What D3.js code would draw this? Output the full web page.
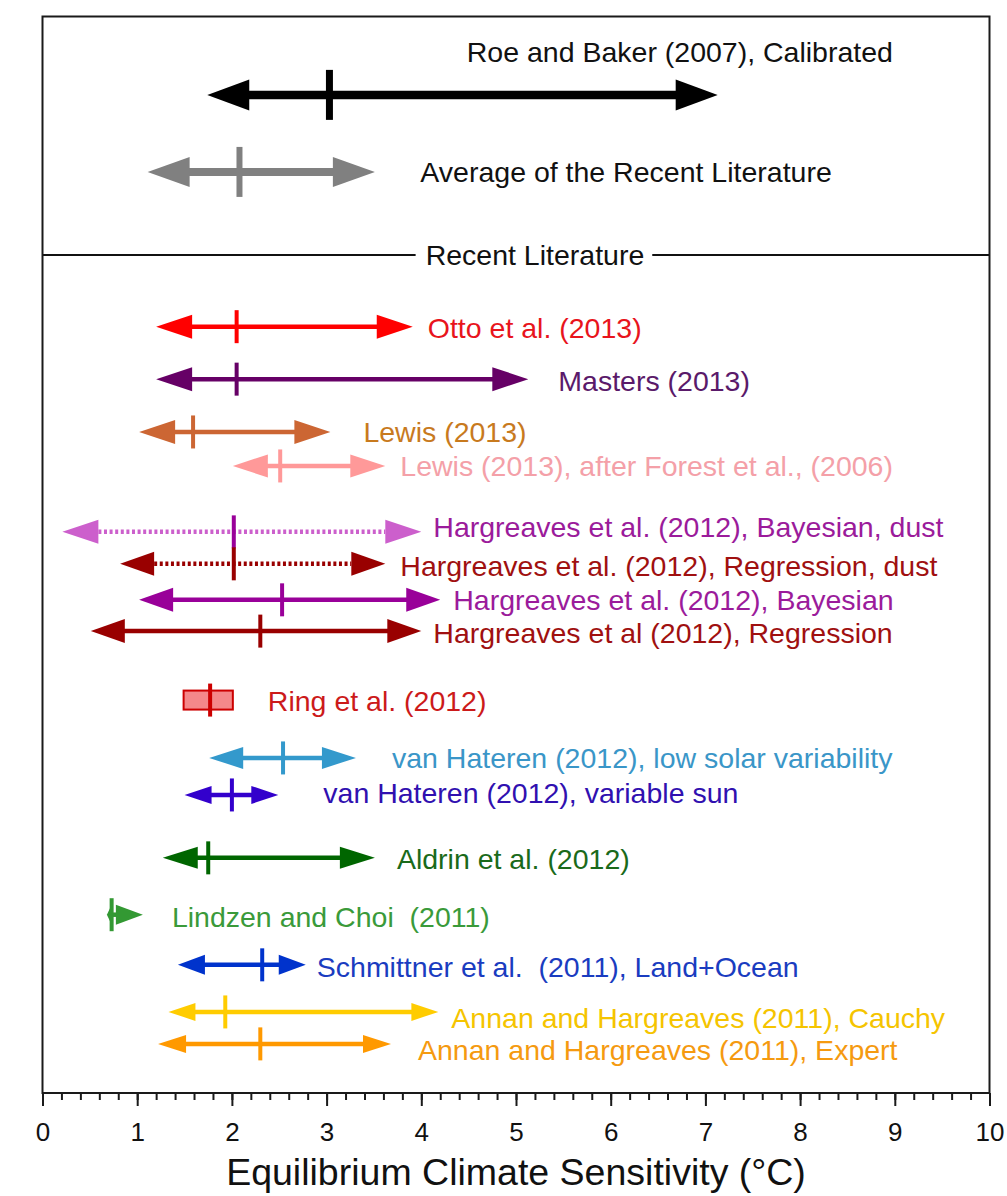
<!DOCTYPE html>
<html>
<head>
<meta charset="utf-8">
<script src="https://d3js.org/d3.v7.min.js"></script>
<style>
    body { margin: 0; background: #ffffff; }
    text { font-family: "Liberation Sans", Arial, sans-serif; white-space: pre; }
</style>
</head>
<body>
<div id="graph"></div>
<script>
// ---- Data (values in °C) ----

// Top panel: calibrated range and the average of the recent literature
const summaryNames = ["Roe and Baker (2007), Calibrated", "Average of the Recent Literature"];
const summaryLows = [1.74, 1.11];
const summaryMedians = [3.03, 2.08];
const summaryHighs = [7.13, 3.51];

// Bottom panel: individual studies
const studies = [
    "Otto et al. (2013)",
    "Masters (2013)",
    "Lewis (2013)",
    "Lewis (2013), after Forest et al., (2006)",
    "Hargreaves et al. (2012), Bayesian, dust",
    "Hargreaves et al. (2012), Regression, dust",
    "Hargreaves et al. (2012), Bayesian",
    "Hargreaves et al (2012), Regression",
    "Ring et al. (2012)",
    "van Hateren (2012), low solar variability",
    "van Hateren (2012), variable sun",
    "Aldrin et al. (2012)",
    "Lindzen and Choi  (2011)",
    "Schmittner et al.  (2011), Land+Ocean",
    "Annan and Hargreaves (2011), Cauchy",
    "Annan and Hargreaves (2011), Expert"
];
const lows    = [1.20, 1.20, 1.02, 2.01, 0.21, 0.82, 1.02, 0.51, 1.49, 1.76, 1.50, 1.27, 0.68, 1.43, 1.33, 1.22];
const medians = [2.05, 2.05, 1.59, 2.51, 2.02, 2.02, 2.53, 2.30, 1.77, 2.54, 2.00, 1.75, 0.73, 2.32, 1.93, 2.30];
const highs   = [3.91, 5.13, 3.04, 3.62, 4.00, 3.62, 4.20, 4.00, 2.01, 3.31, 2.49, 3.51, 1.06, 2.78, 4.18, 3.68];

const xTicks = [0, 1, 2, 3, 4, 5, 6, 7, 8, 9, 10];
const sectionTitle = "Recent Literature";
const xTitle = "Equilibrium Climate Sensitivity (°C)";

// ---- Layout and styles (kept apart from the data) ----
const width = 1007, height = 1196;
const margin = {left: 42.5, top: 16.5, right: 17.5, bottom: 103};
const plotW = width - margin.left - margin.right;
const plotH = height - margin.top - margin.bottom;

// rows in layout units, the y scale turns them into pixels
const summaryRows = [2.33, 4.62];
const summaryLabelRows = [1.07, 4.62];
const summaryLabelX = [4.48, 3.99];
const sectionRow = 7.09;
const studyRows = [9.22, 10.78, 12.35, 13.36, 15.32, 16.27, 17.34, 18.27, 20.32, 22.04, 23.14, 25.01, 26.70, 28.19, 29.59, 30.54];

const summaryStyles = [
    {color: "#000000", width: 8.5, head: [42, 31], tickW: 7, tickH: 50},
    {color: "#808080", width: 8, head: [42, 30], tickW: 6, tickH: 50}
];

// line colour, label colour, tick colour, dotted?, arrow head [length, height], label gap (px), label dy (px)
const styles = [
    {color: "#ff0000", text: "#e8141c", head: [36, 24], gap: 15, dy: 1},
    {color: "#660066", text: "#5a1a6a", head: [36, 24], gap: 30, dy: 2},
    {color: "#cc6633", text: "#c87a1e", head: [36, 24], gap: 33, dy: 0},
    {color: "#ff9999", text: "#f4a0a8", head: [35, 23], gap: 15, dy: 0},
    {color: "#cc5fcc", text: "#9b1b9b", tick: "#990099", dotted: true, head: [36, 24], gap: 12, dy: -5},
    {color: "#990000", text: "#a01010", dotted: true, head: [34, 24], gap: 15, dy: 2},
    {color: "#990099", text: "#9b1b9b", head: [34, 24], gap: 13, dy: 0},
    {color: "#990000", text: "#a01010", head: [34, 24], gap: 12, dy: 2},
    {color: "#cc0000", text: "#cc1a1a", box: "#f4888a", gap: 35, dy: 1},
    {color: "#3399cc", text: "#3a96c8", head: [34, 22], gap: 36, dy: 0},
    {color: "#3300cc", text: "#3010b0", head: [27, 18], gap: 45, dy: -2},
    {color: "#006600", text: "#1a6a1a", head: [35, 22], gap: 22, dy: 1},
    {color: "#339933", text: "#3a9a3a", head: [27, 20], gap: 29, dy: 2},
    {color: "#0033cc", text: "#1a3cc0", head: [27, 20], gap: 11, dy: 2},
    {color: "#ffcc00", text: "#f5c400", head: [27, 18], gap: 13, dy: 6},
    {color: "#ff9900", text: "#f59a10", head: [28, 18], gap: 27, dy: 6}
];

// Set up the SVG object
let svg = d3.select("#graph")
    .append("svg")
    .attr("width", width)
    .attr("height", height)
    .append("g")
    .attr("transform", `translate(${margin.left}, ${margin.top})`);

let x = d3.scaleLinear()
    .domain([0, 10])
    .range([0, plotW]);

let y = d3.scaleLinear()
    .domain([0, 32])
    .range([0, plotH]);

// Draw one range: shaft, two arrow heads and the median tick
function drawRange(lo, med, hi, row, st, lineW, tickW, tickH) {
    let g = svg.append("g");
    let yy = y(row);
    let x0 = x(lo), x1 = x(hi), xm = x(med);

    if (st.box) {
        // Ring et al. is shown as a box, not arrows
        g.append("rect")
            .attr("x", x0).attr("y", yy - 9.5)
            .attr("width", x1 - x0).attr("height", 19)
            .style("fill", st.box)
            .style("stroke", st.color)
            .style("stroke-width", 2);
    } else {
        let lenL = Math.min(st.head[0], xm - x0);
        let lenR = Math.min(st.head[0], x1 - xm);
        let half = st.head[1] / 2;
        g.append("line")
            .attr("x1", st.dotted ? x0 + lenL : x0 + lenL * 0.5)
            .attr("x2", st.dotted ? x1 - lenR : x1 - lenR * 0.5)
            .attr("y1", yy).attr("y2", yy)
            .style("stroke", st.color)
            .style("stroke-width", lineW)
            .style("stroke-dasharray", st.dotted ? "3,2.6" : null);
        g.append("path")
            .attr("d", `M${x0},${yy} L${x0 + lenL},${yy - half} L${x0 + lenL},${yy + half} Z`)
            .style("fill", st.color);
        g.append("path")
            .attr("d", `M${x1},${yy} L${x1 - lenR},${yy - half} L${x1 - lenR},${yy + half} Z`)
            .style("fill", st.color);
    }

    g.append("line")
        .attr("x1", xm).attr("x2", xm)
        .attr("y1", yy - tickH / 2).attr("y2", yy + tickH / 2)
        .style("stroke", st.tick || st.color)
        .style("stroke-width", tickW);
}

// Top panel
for (let i = 0; i < summaryNames.length; i++) {
    let st = summaryStyles[i];
    drawRange(summaryLows[i], summaryMedians[i], summaryHighs[i], summaryRows[i], st, st.width, st.tickW, st.tickH);
    svg.append("text")
        .attr("x", x(summaryLabelX[i]))
        .attr("y", y(summaryLabelRows[i]))
        .attr("dy", "0.35em")
        .style("font-size", "28.5px")
        .style("fill", "#111")
        .text(summaryNames[i]);
}

// Section divider with its title
let secLabel = svg.append("text")
    .attr("x", x(5.2))
    .attr("y", y(sectionRow))
    .attr("dy", "0.35em")
    .style("text-anchor", "middle")
    .style("font-size", "28.5px")
    .style("fill", "#111")
    .text(sectionTitle);
let secLen = secLabel.node().getComputedTextLength();
svg.append("line")
    .attr("x1", 0).attr("x2", x(5.2) - secLen / 2 - 10)
    .attr("y1", y(sectionRow)).attr("y2", y(sectionRow))
    .style("stroke", "#111").style("stroke-width", 2);
svg.append("line")
    .attr("x1", x(5.2) + secLen / 2 + 8).attr("x2", plotW)
    .attr("y1", y(sectionRow)).attr("y2", y(sectionRow))
    .style("stroke", "#111").style("stroke-width", 2);

// Recent literature rows
for (let i = 0; i < studies.length; i++) {
    let st = styles[i];
    drawRange(lows[i], medians[i], highs[i], studyRows[i], st, 4.5, 4, 33);
    svg.append("text")
        .attr("x", x(highs[i]) + st.gap)
        .attr("y", y(studyRows[i]) + st.dy)
        .attr("dy", "0.35em")
        .style("font-size", "28.5px")
        .style("fill", st.text)
        .text(studies[i]);
}

// Frame round the plot
svg.append("rect")
    .attr("x", 0).attr("y", 0)
    .attr("width", plotW).attr("height", plotH)
    .style("fill", "none")
    .style("stroke", "#1a1a1a")
    .style("stroke-width", 2);

// Minor ticks every 0.2
svg.append("g")
    .attr("transform", `translate(0, ${plotH})`)
    .call(d3.axisBottom(x).tickValues(d3.range(0, 51).map(d => d / 5)).tickSize(7).tickFormat(""))
    .call(g => g.select(".domain").remove())
    .call(g => g.selectAll("line").style("stroke", "#1a1a1a").style("stroke-width", 2));

// Major ticks with labels
svg.append("g")
    .attr("transform", `translate(0, ${plotH})`)
    .call(d3.axisBottom(x).tickValues(xTicks).tickSize(13).tickPadding(17).tickFormat(d3.format("d")))
    .call(g => g.select(".domain").remove())
    .call(g => g.selectAll("line").style("stroke", "#1a1a1a").style("stroke-width", 2))
    .call(g => g.selectAll("text")
        .style("font-family", "'Liberation Sans', Arial, sans-serif")
        .style("font-size", "26px")
        .style("fill", "#111"));

// x-axis title
svg.append("text")
    .attr("x", plotW / 2)
    .attr("y", plotH + 79)
    .attr("dy", "0.35em")
    .style("text-anchor", "middle")
    .style("font-size", "37.5px")
    .style("fill", "#111")
    .text(xTitle);
</script>
</body>
</html>
